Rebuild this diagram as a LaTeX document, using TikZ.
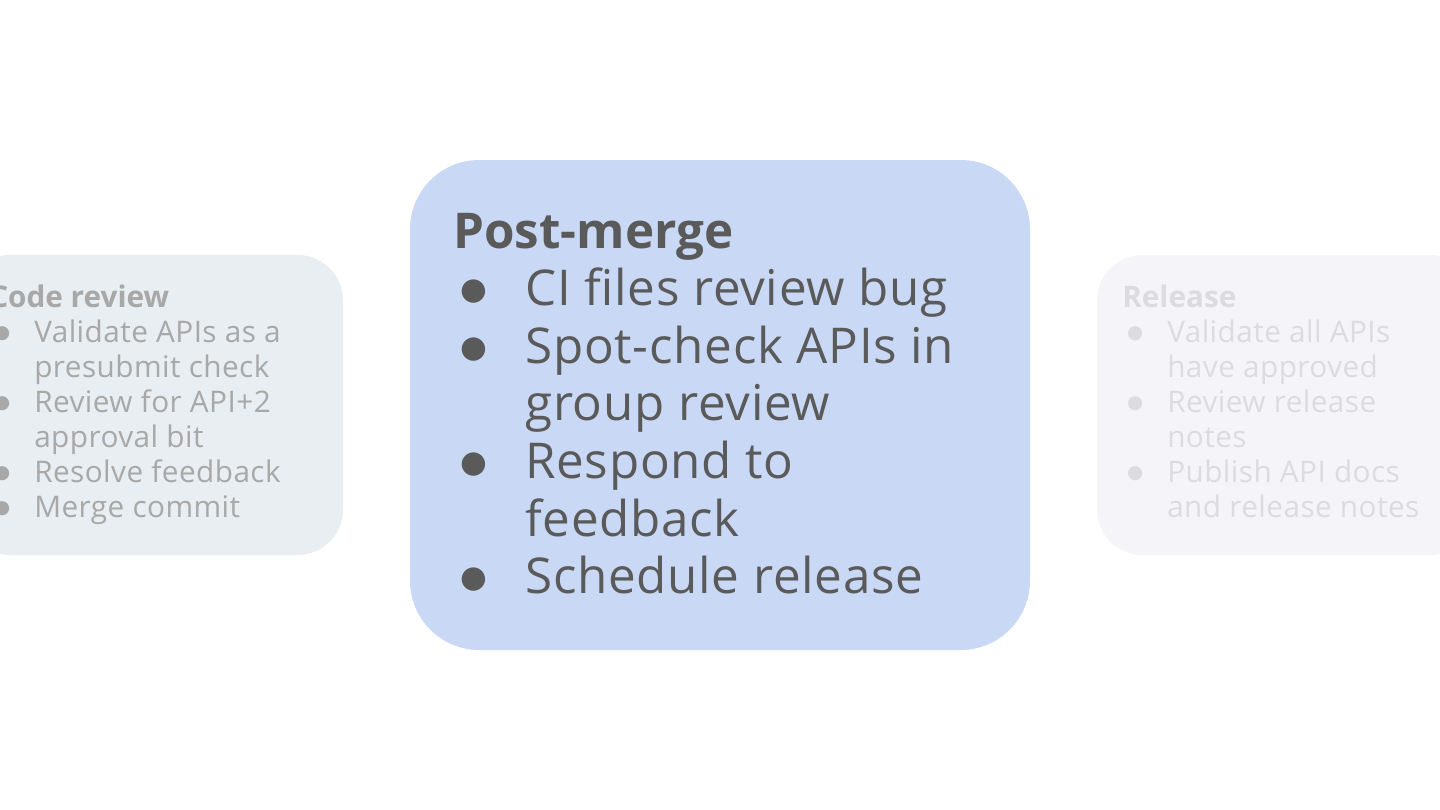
\documentclass[tikz,border=0pt]{standalone}
\usepackage{fontspec}
\setmainfont[LetterSpace=1.5,BoldFeatures={LetterSpace=0}]{Open Sans}
\newfontfamily\symfont{DejaVu Sans}
\usetikzlibrary{positioning}
\definecolor{mergefill}{HTML}{C9D9F5}
\definecolor{mergetext}{HTML}{5A5A5A}
\definecolor{reviewfill}{HTML}{E8EEF1}
\definecolor{reviewtext}{HTML}{A8A8A8}
\definecolor{releasefill}{HTML}{F5F5F9}
\definecolor{releasetext}{HTML}{DCDCE0}
\newcommand{\bigbul}{\makebox[54pt][l]{\hspace{5.5pt}\raisebox{4.6pt}{\symfont\fontsize{23}{23}\selectfont ●}}}
\newcommand{\smallbul}{\makebox[33.75pt][l]{\hspace{3.6pt}\raisebox{2.8pt}{\symfont\fontsize{13.9}{13.9}\selectfont ●}}}
\tikzset{
    stagebox/.style = {rectangle, draw=none, inner sep=0pt},
    bigstage/.style = {stagebox, minimum width=465pt, minimum height=367.5pt, rounded corners=52pt},
    smallstage/.style = {stagebox, minimum width=284.25pt, minimum height=225pt, rounded corners=34pt},
    bigtext/.style = {anchor=base west, inner sep=0pt, align=left, font=\fontsize{37}{43.2}\selectfont},
    smalltext/.style = {anchor=base west, inner sep=0pt, align=left, font=\fontsize{22.3}{26.25}\selectfont}
}

\begin{document}
\begin{tikzpicture}[x=0.75pt,y=-0.75pt]
  \useasboundingbox (0,0) rectangle (1440,810);
  \clip (0,0) rectangle (1440,810);

  % stage boxes
  \node[smallstage, fill=reviewfill] (review) at (153.5,405) {};
  \node[bigstage, fill=mergefill] (merge) at (720,405) {};
  \node[smallstage, fill=releasefill] (release) at (1286.5,405) {};

  % stage contents
  \node[smalltext, text=reviewtext] (reviewlist) at (-11,307) {%
    \begin{tabular}[t]{@{}l@{}l@{}}
      \multicolumn{2}{@{}l@{}}{\bfseries Code review}\\
      \smallbul & Validate APIs as a\\
                & presubmit check\\
      \smallbul & Review for API+2\\
                & approval bit\\
      \smallbul & Resolve feedback\\
      \smallbul & Merge commit
    \end{tabular}};
  \node[bigtext, text=mergetext] (mergelist) at (453,248) {%
    \begin{tabular}[t]{@{}l@{}l@{}}
      \multicolumn{2}{@{}l@{}}{\bfseries Post-merge}\\
      \bigbul & CI files review bug\\
      \bigbul & Spot-check APIs in\\
              & group review\\
      \bigbul & Respond to\\
              & feedback\\
      \bigbul & Schedule release
    \end{tabular}};
  \node[smalltext, text=releasetext] (releaselist) at (1122,307) {%
    \begin{tabular}[t]{@{}l@{}l@{}}
      \multicolumn{2}{@{}l@{}}{\bfseries Release}\\
      \smallbul & Validate all APIs\\
                & have approved\\
      \smallbul & Review release\\
                & notes\\
      \smallbul & Publish API docs\\
                & and release notes
    \end{tabular}};
\end{tikzpicture}
\end{document}
